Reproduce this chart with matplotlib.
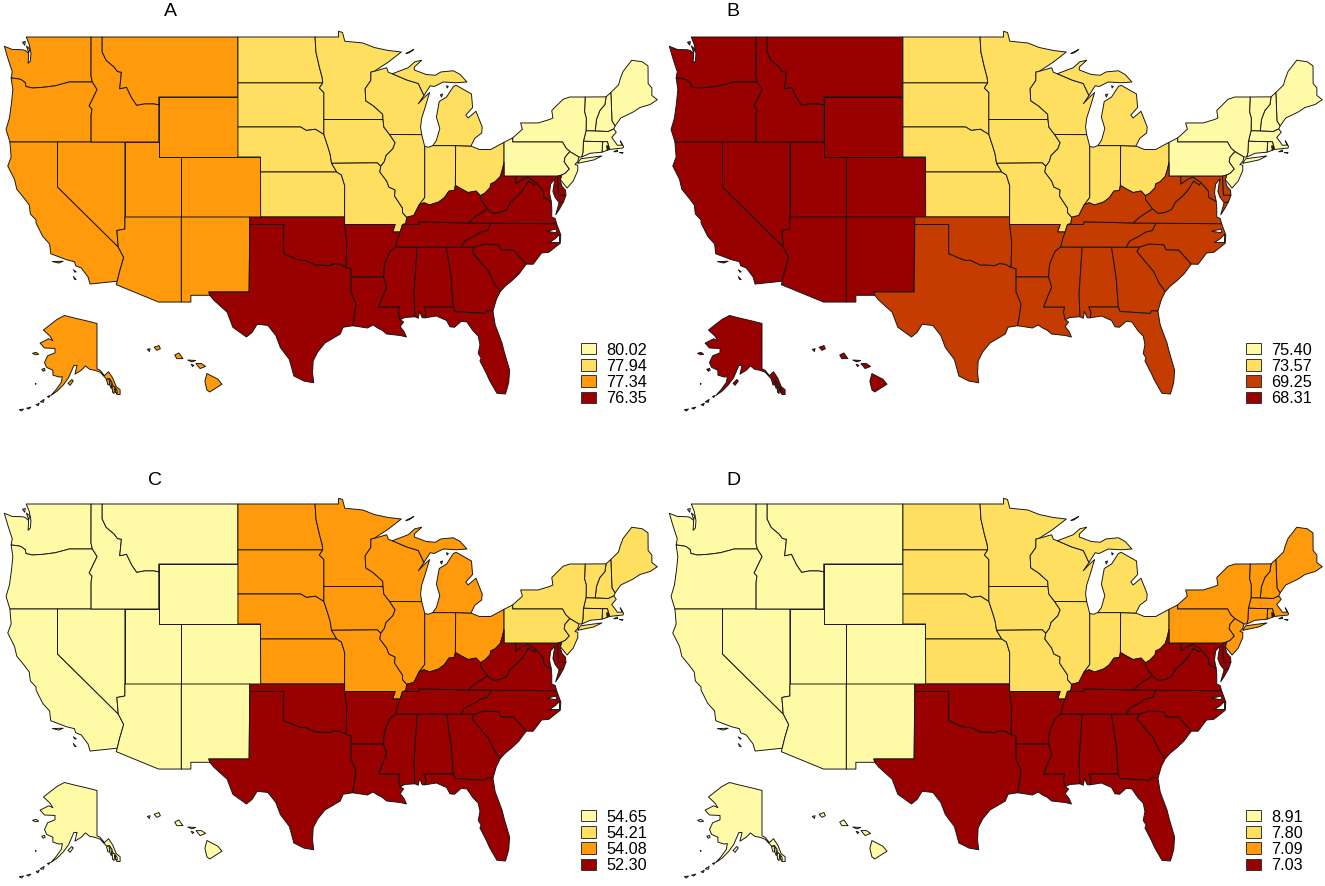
import matplotlib
matplotlib.use("Agg")
import matplotlib.pyplot as plt
from matplotlib.patches import Patch

plt.rcParams['font.family'] = ['Liberation Sans', 'DejaVu Sans']
W, H = 1325, 886

# ---------- shared borders (lon, lat) ----------
WA_COAST = [(-122.76,49.0),(-122.5,48.5),(-122.35,47.9),(-122.4,47.4),(-122.6,47.25),(-122.55,47.9),(-122.85,48.1),(-123.1,48.15),(-124.0,48.17),(-124.7,48.38),(-124.4,47.6),(-124.1,46.9),(-124.0,46.7),(-124.1,46.27)]
COLUMBIA = [(-124.1,46.27),(-123.4,46.2),(-123.2,46.15),(-122.85,45.95),(-122.8,45.7),(-122.2,45.6),(-121.2,45.65),(-120.2,45.75),(-119.3,45.93),(-118.98,46.0),(-116.92,46.0)]
OR_COAST = [(-124.1,46.27),(-123.95,45.5),(-124.07,44.6),(-124.25,43.6),(-124.55,42.84),(-124.21,42.0)]
CA_COAST = [(-124.21,42.0),(-124.1,41.0),(-124.4,40.4),(-123.8,39.5),(-123.6,38.85),(-123.0,38.3),(-122.5,37.8),(-122.4,37.2),(-121.9,36.8),(-121.9,36.6),(-121.3,35.7),(-120.7,35.2),(-120.6,34.55),(-119.2,34.15),(-118.5,34.02),(-118.4,33.75),(-117.9,33.6),(-117.3,33.0),(-117.12,32.53)]
OR_ID = [(-116.92,46.0),(-116.5,45.5),(-116.85,44.95),(-117.2,44.4),(-116.95,44.2),(-117.03,43.8),(-117.03,42.0)]
WA_ID = [(-116.92,46.0),(-117.04,46.4),(-117.03,49.0)]
ID_MT = [(-116.05,49.0),(-116.05,48.0),(-115.7,47.45),(-115.0,47.0),(-114.7,46.7),(-114.35,46.65),(-114.5,45.55),(-113.9,45.65),(-113.45,44.95),(-113.0,44.45),(-112.3,44.55),(-111.5,44.55),(-111.05,44.48)]
AZ_CA = [(-114.63,35.0),(-114.15,34.3),(-114.5,33.4),(-114.72,32.72)]
AZ_NV = [(-114.04,36.2),(-114.75,36.1),(-114.63,35.0)]
TX_MEX = [(-106.53,31.78),(-106.2,31.47),(-105.0,30.65),(-104.5,29.65),(-103.3,29.0),(-102.8,29.3),(-102.35,29.85),(-101.4,29.77),(-100.7,29.1),(-100.3,28.3),(-99.5,27.5),(-99.1,26.4),(-98.2,26.06),(-97.35,25.95)]
TX_COAST = [(-97.35,25.95),(-97.45,26.6),(-97.4,27.4),(-97.0,28.0),(-96.35,28.6),(-95.0,29.2),(-94.75,29.65),(-93.9,29.75)]
RED = [(-94.48,33.64),(-95.0,33.85),(-95.5,33.9),(-96.0,33.75),(-96.5,33.8),(-97.2,33.8),(-97.7,33.98),(-98.1,34.12),(-98.5,34.1),(-99.2,34.3),(-100.0,34.56)]
TX_LA = [(-94.04,33.0),(-94.04,32.0),(-93.6,31.2),(-93.75,30.4),(-93.9,29.75)]
LA_COAST = [(-93.9,29.75),(-92.6,29.6),(-92.1,29.8),(-91.7,29.6),(-91.3,29.45),(-90.9,29.2),(-90.3,29.15),(-89.7,29.1),(-89.15,29.0),(-89.35,29.35),(-89.7,29.7),(-89.4,30.0),(-89.7,30.15)]
LA_MS = [(-91.17,33.0),(-91.0,32.6),(-90.9,32.3),(-91.3,31.6),(-91.6,31.0),(-89.75,31.0),(-89.85,30.65),(-89.7,30.15)]
AR_MS = [(-90.1,35.0),(-90.6,34.7),(-91.0,34.0),(-91.1,33.7),(-91.17,33.0)]
AR_TN = [(-90.1,35.0),(-89.9,35.6),(-89.7,36.0),(-89.5,36.5)]
AR_MO = [(-94.62,36.5),(-90.15,36.5),(-90.37,36.0),(-89.7,36.0)]
MS_AL = [(-88.2,35.0),(-88.47,31.9),(-88.4,30.35)]
MS_COAST = [(-89.7,30.15),(-89.3,30.3),(-88.4,30.35)]
AL_COAST = [(-88.4,30.35),(-88.1,30.25),(-88.0,30.7),(-87.75,30.28),(-87.5,30.28)]
AL_FL = [(-87.5,30.28),(-87.4,30.6),(-87.6,31.0),(-85.0,31.0)]
AL_GA = [(-85.6,34.98),(-85.18,32.87),(-85.1,32.0),(-85.0,31.0)]
GA_FL = [(-85.0,31.0),(-84.86,30.7),(-82.2,30.57),(-82.05,30.75),(-81.5,30.72)]
FL_COAST = [(-87.5,30.28),(-86.5,30.4),(-85.6,30.1),(-85.3,29.68),(-84.9,29.65),(-84.3,30.05),(-83.8,30.0),(-83.3,29.45),(-82.8,29.05),(-82.65,28.5),(-82.8,27.9),(-82.55,27.6),(-82.65,27.4),(-82.1,26.6),(-81.8,26.1),(-81.15,25.25),(-80.4,25.2),(-80.2,25.7),(-80.1,26.0),(-80.03,26.8),(-80.5,28.0),(-80.7,28.6),(-81.3,29.8),(-81.5,30.72)]
GA_COAST = [(-81.5,30.72),(-81.2,31.5),(-80.85,32.03)]
GA_SC = [(-83.11,35.0),(-83.35,34.7),(-82.6,34.0),(-81.9,33.4),(-81.4,32.6),(-80.85,32.03)]
SC_COAST = [(-80.85,32.03),(-80.4,32.4),(-79.9,32.7),(-79.2,33.2),(-78.55,33.86)]
NC_SC = [(-78.55,33.86),(-79.67,34.8),(-80.8,34.82),(-80.93,35.1),(-81.04,35.15),(-82.3,35.2),(-83.11,35.0),(-84.32,34.99)]
NC_COAST = [(-78.55,33.86),(-77.95,33.85),(-77.2,34.6),(-76.55,34.65),(-75.55,35.25),(-75.5,35.8),(-75.87,36.55)]
TN_NC = [(-81.68,36.59),(-82.0,36.1),(-82.6,36.0),(-83.1,35.75),(-84.0,35.4),(-84.32,34.99)]
KY_TN = [(-89.5,36.5),(-88.07,36.5),(-88.07,36.68),(-83.68,36.6)]
KY_VA = [(-83.68,36.6),(-83.1,37.0),(-81.97,37.54)]
KY_WV = [(-81.97,37.54),(-82.6,38.17),(-82.6,38.42)]
VA_WV = [(-81.97,37.54),(-81.5,37.25),(-80.9,37.3),(-80.3,37.5),(-79.95,38.0),(-79.3,38.42),(-78.85,38.8),(-78.35,39.4),(-77.83,39.13),(-77.72,39.32)]
VA_COAST = [(-75.87,36.55),(-76.0,36.9),(-76.3,37.0),(-76.3,37.6),(-76.35,38.05)]
POTOMAC = [(-76.35,38.05),(-77.0,38.3),(-77.05,38.75),(-77.72,39.32)]
MD_WV = [(-77.72,39.32),(-78.4,39.65),(-78.8,39.55),(-79.48,39.2),(-79.48,39.72)]
MD_BAY = [(-75.25,38.03),(-75.65,37.95),(-76.0,38.3),(-76.2,38.7),(-76.1,39.2),(-76.0,39.55),(-76.4,39.2),(-76.5,38.6),(-76.35,38.05)]
DE_MD = [(-75.79,39.72),(-75.7,38.46)]
DE_EAST = [(-75.79,39.72),(-75.42,39.8),(-75.55,39.45),(-75.4,39.05),(-75.08,38.78),(-75.05,38.45)]
OH_WV = [(-80.52,40.64),(-80.65,40.2),(-80.85,39.7),(-81.3,39.35),(-81.7,39.2),(-81.75,38.95),(-82.2,38.6),(-82.6,38.42)]
OH_KY = [(-82.6,38.42),(-83.0,38.73),(-83.7,38.63),(-84.25,38.85),(-84.82,39.1)]
IN_KY = [(-84.82,39.1),(-84.9,38.78),(-85.4,38.72),(-85.8,38.28),(-86.3,38.0),(-86.7,37.9),(-87.1,37.8),(-87.6,37.95),(-88.03,37.8)]
IL_KY = [(-88.03,37.8),(-88.5,37.1),(-89.13,36.98)]
IL_IN = [(-88.03,37.8),(-87.53,38.3),(-87.53,39.3),(-87.53,41.7)]
OH_LAKE = [(-83.45,41.73),(-82.7,41.5),(-81.7,41.5),(-80.52,41.98)]
MO_IL = [(-91.42,40.38),(-91.5,40.0),(-90.9,39.4),(-90.7,39.0),(-90.15,38.8),(-90.2,38.4),(-89.5,37.6),(-89.5,37.3),(-89.13,36.98)]
IA_IL = [(-91.42,40.38),(-91.1,40.7),(-90.95,41.1),(-90.35,41.55),(-90.15,41.95),(-90.64,42.5)]
IA_MO = [(-95.77,40.58),(-91.73,40.61),(-91.42,40.38)]
IA_NE = [(-96.45,42.5),(-96.1,41.7),(-95.9,41.2),(-95.77,40.58)]
NE_MO = [(-95.77,40.58),(-95.31,40.0)]
KS_MO = [(-95.31,40.0),(-94.9,39.8),(-94.61,39.1),(-94.62,37.0)]
WI_IA = [(-90.64,42.5),(-91.15,43.0),(-91.22,43.5)]
WI_MN = [(-91.22,43.5),(-91.25,43.85),(-92.05,44.4),(-92.75,44.75),(-92.8,45.55),(-92.3,46.1),(-92.29,46.66)]
WI_SUP = [(-92.29,46.66),(-92.01,46.71),(-90.9,46.95),(-90.75,46.65),(-90.4,46.55)]
WI_UP = [(-90.4,46.55),(-89.1,46.13),(-88.1,45.9),(-87.6,45.1)]
WI_LAKE = [(-87.6,45.1),(-88.1,44.55),(-87.6,44.95),(-87.1,45.3),(-87.5,44.3),(-87.8,43.6),(-87.9,43.0),(-87.8,42.49)]
UP_SHORE = [(-90.4,46.55),(-89.0,46.95),(-88.4,47.35),(-87.8,47.45),(-88.45,47.0),(-88.45,46.8),(-87.4,46.5),(-86.6,46.45),(-86.1,46.67),(-85.0,46.75),(-84.4,46.5),(-83.8,46.0),(-84.75,45.95),(-85.9,46.0),(-86.7,45.7),(-87.05,45.75),(-87.6,45.1)]
MN_NORTH = [(-97.23,49.0),(-95.15,49.0),(-95.15,49.38),(-94.8,49.3),(-94.6,48.72),(-93.0,48.6),(-92.0,48.3),(-90.75,48.1),(-89.6,48.0),(-90.8,47.3),(-92.01,46.71),(-92.29,46.66)]
MN_SD = [(-96.45,43.5),(-96.45,45.3),(-96.85,45.6),(-96.55,45.94)]
MN_ND = [(-96.55,45.94),(-96.6,46.3),(-96.85,47.0),(-97.15,48.0),(-97.23,49.0)]
NE_SD = [(-96.45,42.5),(-97.2,42.85),(-98.0,42.77),(-98.5,43.0),(-104.05,43.0)]
NY_PA = [(-79.76,42.27),(-79.76,42.0),(-75.35,42.0),(-75.05,41.6),(-74.7,41.36)]
NJ_PA = [(-74.7,41.36),(-75.13,40.98),(-75.2,40.68),(-74.75,40.2),(-75.13,39.9),(-75.42,39.8)]
NJ_COAST = [(-75.42,39.8),(-75.55,39.5),(-74.95,38.93),(-74.4,39.4),(-74.0,40.1),(-74.0,40.45),(-74.25,40.5),(-74.0,40.7),(-73.9,41.0)]
NY_NORTH = [(-79.76,42.27),(-78.9,42.85),(-79.05,43.27),(-77.5,43.27),(-76.5,43.5),(-76.2,43.6),(-76.3,44.1),(-75.3,44.85),(-74.7,45.0),(-73.35,45.0)]
NY_VT = [(-73.35,45.0),(-73.4,44.0),(-73.25,43.6),(-73.27,42.75)]
NY_CT = [(-73.5,42.05),(-73.55,41.3),(-73.65,41.0)]
CT_COAST = [(-71.86,41.32),(-72.9,41.25),(-73.65,41.0)]
VT_NH = [(-71.5,45.01),(-71.6,44.5),(-72.05,44.1),(-72.35,43.5),(-72.46,42.73)]
NH_ME = [(-71.08,45.3),(-71.03,44.5),(-70.98,43.4),(-70.7,43.07)]
MA_COAST = [(-70.82,42.87),(-70.6,42.65),(-71.0,42.3),(-70.65,41.95),(-70.5,41.78),(-70.05,41.8),(-70.25,42.08),(-69.95,41.7),(-70.0,41.6),(-70.65,41.55),(-71.2,41.5)]
ME_OUT = [(-71.08,45.3),(-70.4,45.8),(-70.25,46.2),(-70.0,46.7),(-69.23,47.45),(-68.3,47.35),(-67.79,47.07),(-67.78,45.9),(-67.45,45.6),(-67.45,45.1),(-66.97,44.82),(-67.6,44.5),(-68.5,44.3),(-69.1,44.0),(-70.2,43.6),(-70.7,43.07)]
MI_LOWER = [(-86.82,41.76),(-86.5,42.1),(-86.2,42.9),(-86.5,43.65),(-86.25,44.7),(-85.6,45.0),(-85.0,45.7),(-84.75,45.78),(-83.4,45.2),(-83.3,44.3),(-83.9,43.8),(-83.7,43.6),(-83.0,44.05),(-82.45,43.0),(-82.5,42.6),(-83.1,42.25),(-83.45,41.73)]


def rev(seg):
    return seg[::-1]


# ---------- regions: state outlines built from the borders ----------
WEST = {
    'WA': WA_COAST + COLUMBIA[1:] + WA_ID,
    'OR': COLUMBIA + OR_ID + rev(OR_COAST),
    'CA': CA_COAST + [(-114.72,32.72)] + rev(AZ_CA) + [(-120.0,39.0),(-120.0,42.0)],
    'NV': [(-120.0,42.0),(-114.04,42.0),(-114.04,36.2)] + AZ_NV + [(-120.0,39.0)],
    'ID': [(-117.03,49.0)] + ID_MT + [(-111.05,42.0),(-117.03,42.0)] + rev(OR_ID) + WA_ID,
    'MT': [(-116.05,49.0),(-104.05,49.0),(-104.05,45.0),(-111.05,45.0)] + rev(ID_MT),
    'WY': [(-111.05,45.0),(-104.05,45.0),(-104.05,41.0),(-111.05,41.0)],
    'UT': [(-114.04,42.0),(-111.05,42.0),(-111.05,41.0),(-109.05,41.0),(-109.05,37.0),(-114.04,37.0)],
    'CO': [(-109.05,41.0),(-102.05,41.0),(-102.05,37.0),(-109.05,37.0)],
    'AZ': [(-114.04,37.0),(-109.05,37.0),(-109.05,31.33),(-111.07,31.33),(-114.81,32.49)] + rev(AZ_CA) + rev(AZ_NV),
    'NM': [(-109.05,37.0),(-103.0,37.0),(-103.06,32.0),(-106.62,32.0),(-106.53,31.78),(-108.21,31.78),(-108.21,31.33),(-109.05,31.33)],
    'CA_I1': [(-120.45,34.03),(-119.5,34.05),(-119.9,33.93)],
    'CA_I2': [(-118.6,33.48),(-118.35,33.35),(-118.45,33.32)],
    'CA_I3': [(-118.6,33.03),(-118.35,32.82),(-118.5,32.85)],
    'WA_I1': [(-123.1,48.65),(-122.85,48.7),(-122.9,48.45)],
    'WA_I2': [(-122.75,48.4),(-122.45,48.2),(-122.55,47.95)],
}
MIDWEST = {
    'ND': [(-104.05,49.0)] + rev(MN_ND) + [(-104.05,45.94)],
    'SD': [(-104.05,45.94)] + rev(MN_SD) + [(-96.45,42.5)] + NE_SD,
    'NE': NE_SD + [(-104.05,41.0),(-102.05,41.0),(-102.05,40.0),(-95.31,40.0)] + rev(NE_MO) + rev(IA_NE),
    'KS': [(-102.05,40.0)] + KS_MO + [(-102.04,37.0)],
    'MN': MN_NORTH + rev(WI_MN) + [(-96.45,43.5)] + MN_SD + MN_ND,
    'IA': [(-96.45,43.5),(-91.22,43.5)] + rev(WI_IA) + rev(IA_IL) + rev(IA_MO) + rev(IA_NE),
    'MO': IA_MO + MO_IL + [(-89.2,36.55),(-89.5,36.5),(-89.7,36.0)] + rev(AR_MO) + rev(KS_MO) + rev(NE_MO),
    'WI': WI_IA + WI_MN + WI_SUP + WI_UP + WI_LAKE,
    'IL': [(-90.64,42.5),(-87.8,42.49)] + rev(IL_IN) + IL_KY + rev(MO_IL) + IA_IL,
    'IN': [(-87.53,41.7),(-87.2,41.65),(-86.82,41.76),(-84.8,41.76)] + [(-84.82,39.1)] + IN_KY + IL_IN,
    'OH': [(-84.8,41.76)] + OH_LAKE + OH_WV + OH_KY,
    'MI': MI_LOWER + [(-84.8,41.76)],
    'MI_UP': UP_SHORE + rev(WI_UP),
    'MI_RO': [(-89.2,47.9),(-88.5,48.17),(-88.9,47.95)],
    'MI_I1': [(-85.6,45.75),(-85.45,45.7),(-85.55,45.6)],
    'MI_I2': [(-86.15,45.15),(-85.95,45.2),(-86.05,45.0)],
}
NORTHEAST = {
    'ME': ME_OUT + rev(NH_ME),
    'NH': VT_NH[:1] + NH_ME + [(-70.82,42.87),(-71.3,42.7),(-72.46,42.73)] + rev(VT_NH),
    'VT': [(-73.35,45.0)] + VT_NH + [(-73.27,42.75)] + NY_VT[::-1][1:],
    'MA': [(-73.27,42.75),(-72.46,42.73),(-71.3,42.7)] + MA_COAST + [(-71.38,42.02),(-71.8,42.02),(-73.5,42.05)],
    'RI': [(-71.8,42.02),(-71.38,42.02),(-71.2,41.5),(-71.86,41.32)],
    'RI_I1': [(-71.45,41.75),(-71.3,41.72),(-71.4,41.45)],
    'RI_I2': [(-71.4,41.72),(-71.25,41.7),(-71.3,41.5)],
    'CT': [(-73.5,42.05),(-71.8,42.02),(-71.86,41.32)] + CT_COAST[1:] + rev(NY_CT)[1:],
    'NY': NY_NORTH + NY_VT + [(-73.5,42.05)] + NY_CT[1:] + [(-73.9,41.0)] + rev(NY_PA),
    'NY_LI': [(-74.0,40.6),(-73.75,40.88),(-72.6,41.0),(-71.87,41.07),(-72.6,40.8),(-74.0,40.58)],
    'PA': [(-80.52,41.98)] + NY_PA + NJ_PA + [(-75.79,39.72),(-79.48,39.72),(-80.52,39.72),(-80.52,40.64)],
    'NJ': NJ_PA + NJ_COAST[1:] + [(-74.7,41.36)],
    'MA_I1': [(-70.82,41.35),(-70.5,41.47),(-70.47,41.36)],
    'MA_I2': [(-70.3,41.3),(-70.0,41.3),(-70.05,41.24)],
}
SOUTH = {
    'TX': [(-103.0,36.5),(-100.0,36.5),(-100.0,34.56)] + rev(RED) + [(-94.04,33.55)] + TX_LA + rev(TX_COAST) + rev(TX_MEX) + [(-106.62,32.0),(-103.06,32.0)],
    'OK': [(-103.0,37.0),(-94.62,37.0),(-94.62,36.5),(-94.43,35.4)] + RED + [(-100.0,36.5),(-103.0,36.5)],
    'AR': AR_MO + [(-90.1,35.0)] + AR_MS + [(-94.04,33.0),(-94.04,33.55),(-94.48,33.64),(-94.43,35.4)],
    'LA': [(-94.04,33.0)] + LA_MS + rev(LA_COAST) + rev(TX_LA),
    'MS': rev(AR_MS) + MS_AL + rev(MS_COAST) + rev(LA_MS),
    'AL': [(-88.2,35.0)] + AL_GA + rev(AL_FL) + rev(AL_COAST) + rev(MS_AL),
    'GA': AL_GA + GA_FL + GA_COAST + rev(GA_SC) + [(-84.32,34.99)],
    'FL': FL_COAST + rev(GA_FL) + rev(AL_FL),
    'SC': NC_SC[:-1] + GA_SC + SC_COAST,
    'NC': [(-81.68,36.59),(-75.87,36.55)] + rev(NC_COAST) + NC_SC + rev(TN_NC),
    'TN': KY_TN + [(-81.68,36.59)] + TN_NC + [(-90.1,35.0)] + AR_TN,
    'KY': KY_TN + KY_VA + KY_WV + OH_KY + IN_KY + IL_KY + [(-89.2,36.55)],
    'VA': [(-83.68,36.6),(-81.68,36.59)] + VA_COAST + POTOMAC + rev(VA_WV) + rev(KY_VA),
    'VA_ES': [(-75.95,37.15),(-75.6,37.55),(-75.25,38.03),(-75.65,37.95)],
    'WV': [(-80.52,40.64),(-80.52,39.72),(-79.48,39.72)] + rev(MD_WV) + rev(VA_WV) + KY_WV + rev(OH_WV),
    'MD': [(-79.48,39.72),(-75.79,39.72)] + DE_MD + [(-75.05,38.45)] + MD_BAY + POTOMAC + MD_WV,
    'DE': DE_EAST + DE_MD[::-1],
}
SOUNDS = [
    [(-76.5,35.3),(-75.62,35.3),(-75.6,35.85),(-76.0,35.55)],
    [(-76.75,36.05),(-75.9,35.95),(-75.9,36.2)],
]
AK_MAIN = [(-141.0,69.65),(-141.0,60.3),(-139.5,60.0),(-137.5,58.9),(-135.5,59.7),(-133.5,58.4),(-131.8,56.6),(-130.0,56.0),(-130.0,55.0),(-131.5,55.0),(-133.5,57.0),(-135.0,58.3),(-136.5,58.2),(-139.5,59.6),(-142.0,60.0),(-144.5,60.2),(-146.5,60.9),(-148.5,60.0),(-151.5,59.2),(-150.5,61.0),(-152.0,61.0),(-153.5,59.5),(-154.5,58.5),(-157.0,57.0),(-160.0,55.7),(-163.0,54.8),(-160.5,56.0),(-158.0,57.5),(-157.5,58.7),(-159.0,58.6),(-162.0,59.0),(-162.0,60.0),(-165.0,60.6),(-166.0,61.6),(-164.5,63.0),(-161.0,63.6),(-161.0,64.5),(-166.0,64.6),(-168.1,65.6),(-164.0,66.5),(-162.0,66.1),(-163.5,67.1),(-166.5,68.3),(-163.0,69.5),(-160.0,70.5),(-156.5,71.3),(-152.0,70.8),(-146.0,70.2)]
AK_ISLANDS = [
    [(-154.8,57.3),(-153.0,58.1),(-152.3,57.8),(-153.8,56.9)],
    [(-167.3,60.2),(-166.0,60.4),(-165.7,60.0),(-166.6,59.8)],
    [(-171.7,63.5),(-170.0,63.7),(-168.8,63.3),(-170.3,63.2)],
    [(-136.5,58.1),(-135.2,58.2),(-135.0,57.0),(-135.8,57.0)],
    [(-134.8,58.0),(-133.9,57.6),(-134.2,56.2),(-134.9,57.0)],
    [(-133.8,56.8),(-132.5,56.6),(-132.9,55.2),(-133.6,55.5)],
    [(-132.3,56.4),(-131.5,55.9),(-131.3,55.3),(-132.2,55.4)],
    [(-164.6,54.6),(-163.3,54.8),(-164.0,54.4)],
    [(-168.0,53.5),(-166.2,54.0),(-166.5,53.4)],
    [(-170.0,52.9),(-168.5,53.2),(-169.0,52.7)],
    [(-174.5,52.2),(-172.5,52.4),(-173.5,52.0)],
    [(-178.0,51.9),(-176.0,52.0),(-177.0,51.6)],
    [(-170.4,57.2),(-170.0,57.25),(-170.15,57.1)],
]
HAWAII = [
    [(-155.9,20.25),(-155.1,19.85),(-154.8,19.5),(-155.7,18.95),(-155.9,19.1),(-156.05,19.7)],
    [(-156.7,20.95),(-156.3,20.95),(-156.0,20.75),(-156.4,20.6)],
    [(-157.3,21.2),(-156.72,21.17),(-157.0,21.07)],
    [(-157.05,20.9),(-156.85,20.83),(-156.95,20.74)],
    [(-158.25,21.55),(-157.95,21.7),(-157.65,21.3),(-158.1,21.3)],
    [(-159.75,22.1),(-159.4,22.22),(-159.3,22.0),(-159.55,21.88)],
    [(-160.25,21.95),(-160.05,22.0),(-160.1,21.8)],
]

# ---------- panel values ----------
PANELS = ['A', 'B', 'C', 'D']
LEGEND_A = ['80.02', '77.94', '77.34', '76.35']
LEGEND_B = ['75.40', '73.57', '69.25', '68.31']
LEGEND_C = ['54.65', '54.21', '54.08', '52.30']
LEGEND_D = ['8.91', '7.80', '7.09', '7.03']
LEGENDS = [LEGEND_A, LEGEND_B, LEGEND_C, LEGEND_D]
REGION_A = {'west': '77.34', 'midwest': '77.94', 'northeast': '80.02', 'south': '76.35'}
REGION_B = {'west': '68.31', 'midwest': '73.57', 'northeast': '75.40', 'south': '69.25'}
REGION_C = {'west': '54.65', 'midwest': '54.08', 'northeast': '54.21', 'south': '52.30'}
REGION_D = {'west': '8.91', 'midwest': '7.80', 'northeast': '7.09', 'south': '7.03'}
REGION_VALUES = [REGION_A, REGION_B, REGION_C, REGION_D]
COLORS_STD = ['#FFFAA5', '#FEDF60', '#FE9A0C', '#990000']
COLORS_B = ['#FFFAA5', '#FEDF60', '#C43C00', '#990000']
PANEL_COLORS = [COLORS_STD, COLORS_B, COLORS_STD, COLORS_STD]

# ---------- layout (pixels) ----------
OFFSETS = [(0, 0), (665, 0), (0, 467), (665, 467)]
TITLE_X = [170, 733, 155, 733]
TITLE_Y = [12, 12, 480, 480]
EDGE = '#151515'
LW = 0.68

fig = plt.figure(figsize=(W / 100, H / 100), dpi=100)


def map_axes(box, x_ref, lon_ref, kx, y_ref, lat_ref, ky):
    """Axes on a pixel box whose limits follow a linear lon/lat scale."""
    l, t, r, b = box
    ax = fig.add_axes([l / W, 1 - b / H, (r - l) / W, (b - t) / H])
    ax.set_xlim(lon_ref + (l - x_ref) / kx, lon_ref + (r - x_ref) / kx)
    ax.set_ylim(lat_ref - (b - y_ref) / ky, lat_ref - (t - y_ref) / ky)
    ax.axis('off')
    ax.patch.set_alpha(0)
    return ax


def draw(ax, rings, color):
    for ring in rings:
        xs, ys = zip(*ring)
        ax.fill(xs, ys, facecolor=color, edgecolor=EDGE, linewidth=LW, joinstyle='round')


for i, name in enumerate(PANELS):
    dx, dy = OFFSETS[i]
    labels = LEGENDS[i]
    colors = PANEL_COLORS[i]
    vals = REGION_VALUES[i]
    col = {lab: c for lab, c in zip(labels, colors)}

    ax = map_axes((dx, 25 + dy, dx + 660, 400 + dy), 91 + dx, -117.04, 11.31, 37 + dy, 49.0, 15.0)
    draw(ax, WEST.values(), col[vals['west']])
    draw(ax, MIDWEST.values(), col[vals['midwest']])
    draw(ax, NORTHEAST.values(), col[vals['northeast']])
    draw(ax, SOUTH.values(), col[vals['south']])
    draw(ax, SOUNDS, 'white')

    ak = map_axes((dx + 10, 305 + dy, dx + 130, 418 + dy), 97 + dx, -141.0, 2.1, 315 + dy, 71.4, 4.85)
    draw(ak, [AK_MAIN] + AK_ISLANDS, col[vals['west']])

    hi = map_axes((dx + 140, 335 + dy, dx + 232, 400 + dy), 222 + dx, -154.8, 13.7, 392 + dy, 18.95, 14.2)
    draw(hi, HAWAII, col[vals['west']])

    fig.text(TITLE_X[i] / W, 1 - TITLE_Y[i] / H, name, fontsize=14, ha='center', va='center', color='black')

    handles = [Patch(facecolor=c, edgecolor='#333333', linewidth=0.7, label=lab) for lab, c in zip(labels, colors)]
    fig.legend(handles=handles, loc='upper left',
               bbox_to_anchor=((581 + dx) / W, 1 - (342.5 + dy) / H),
               frameon=False, fontsize=11.7, borderpad=0, borderaxespad=0,
               handlelength=0.92, handleheight=0.68, handletextpad=0.62, labelspacing=0.07)

fig.savefig('out.png', dpi=100)
